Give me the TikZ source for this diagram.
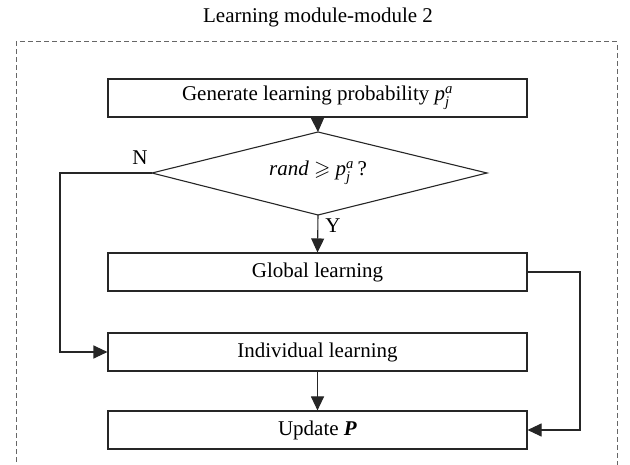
\documentclass[tikz,border=0pt]{standalone}
\usepackage{amsmath,amssymb}
\usepackage{fontspec}
\setmainfont{Liberation Serif}
\usetikzlibrary{arrows.meta,shapes.geometric}
\begin{document}
\begin{tikzpicture}[x=1pt,y=-1pt,
  every node/.style={font=\fontsize{21}{24}\selectfont},
  procbox/.style={draw=black!85,line width=1.1pt,minimum width=419pt,minimum height=38pt,inner sep=0pt},
  conn/.style={draw=black!85,line width=1.1pt},
  arr/.style={conn,-{Triangle[length=14pt,width=13pt]}},
  frame/.style={draw=black!60,line width=1pt,dash pattern=on 5pt off 3pt}]
\useasboundingbox (0,0) rectangle (630,465);
\node (title) at (318,17) {Learning module-module 2};
\draw[frame] (16,470) -- (16,42) -- (617,42) -- (617,470);
\node[procbox] (gen) at (317.5,98) {Generate learning probability \textit{p}$^{\textit{a}}_{\textit{j}}$};
\coordinate (dtop) at (318,132);
\coordinate (dleft) at (152,173);
\coordinate (dright) at (487,173);
\coordinate (dbot) at (318,215);
\draw[conn] (dtop) -- (dright) -- (dbot) -- (dleft) -- cycle;
\node (cond) at (318,173) {\textit{rand} $\geqslant$ \textit{p}$^{\textit{a}}_{\textit{j}}$\,?};
\node[procbox] (glob) at (317.5,272) {Global learning};
\node[procbox] (indiv) at (317.5,352) {Individual learning};
\node[procbox] (upd) at (317.5,430) {Update \textbf{\textit{P}}};
\coordinate (lc) at (60,173);
\coordinate (rc) at (580,272);
\draw[arr] (gen.south) -- (dtop);
\draw[arr] (dbot) -- (glob.north);
\draw[arr] (dleft) -- (lc) |- (indiv.west);
\draw[arr] (glob.east) -- (rc) |- (upd.east);
\draw[arr] (indiv.south) -- (upd.north);
\node (nlab) at (140,158) {N};
\node (ylab) at (333,226) {Y};
\end{tikzpicture}
\end{document}
